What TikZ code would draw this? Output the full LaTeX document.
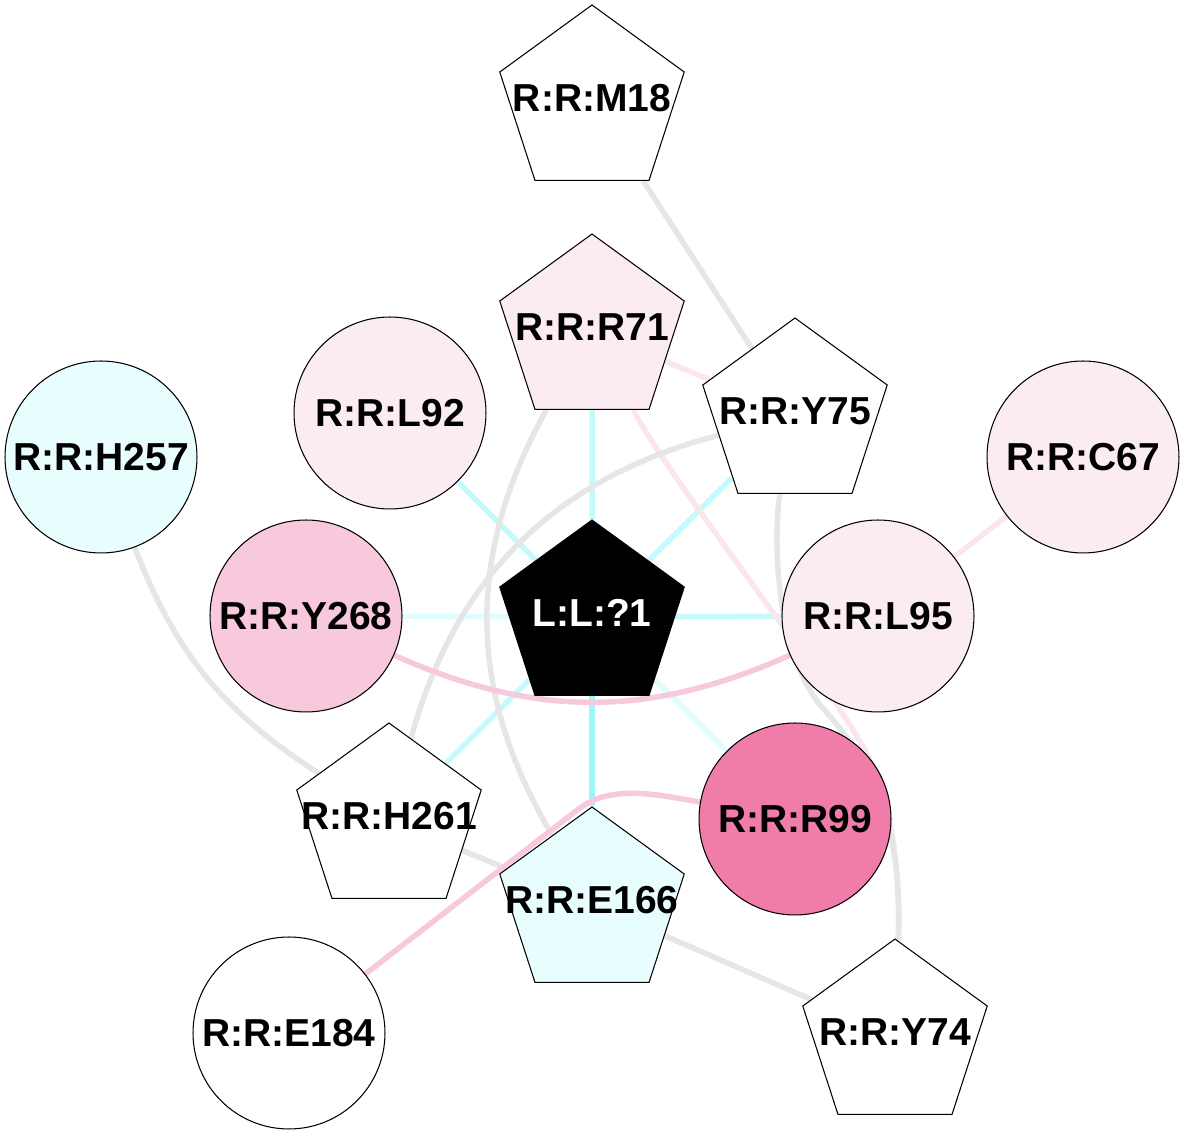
\documentclass[tikz,border=0pt]{standalone}
\usepackage{fontspec}
\setmainfont{Liberation Sans}
\usetikzlibrary{shapes.geometric,backgrounds}
\definecolor{pinkL}{HTML}{FBECF3}
\definecolor{pinkM}{HTML}{F8C8DC}
\definecolor{pinkD}{HTML}{F07CA9}
\definecolor{cyanL}{HTML}{E8FEFE}
\definecolor{egray}{HTML}{E6E6E6}
\definecolor{epink}{HTML}{F8C8DC}
\definecolor{epinkF}{HTML}{FBE6EE}
\definecolor{ecyanS}{HTML}{9CF8F8}
\definecolor{ecyanM}{HTML}{C4FAFA}
\definecolor{ecyanF}{HTML}{E0FDFD}
\newcommand{\pent}[1]{\smash{\raisebox{-.2cm}{\makebox[0pt]{#1}}}}
\begin{document}
\begin{tikzpicture}[x=.02cm,y=.02cm,
    res/.style={draw,line width=.6pt,inner sep=0pt,font=\fontsize{22.2}{26}\selectfont\bfseries},
    rc/.style={res,circle,minimum size=3.84cm},
    rp/.style={res,regular polygon,regular polygon sides=5,minimum size=3.88cm},
    lnk/.style={line width=.11cm},
    lkgray/.style={lnk,draw=egray},
    lkpink/.style={lnk,draw=epink},
    lkpinkf/.style={lnk,draw=epinkF},
    lkcyans/.style={lnk,draw=ecyanS},
    lkcyanm/.style={lnk,draw=ecyanM},
    lkcyanf/.style={lnk,draw=ecyanF}]
    \useasboundingbox (0,0) rectangle (1184,1136);
    \node[rp] (M18) at (592,1034) {\pent{R:R:M18}};
    \node[rp,fill=pinkL] (R71) at (592,805) {\pent{R:R:R71}};
    \node[rp] (Y75) at (795,721) {\pent{R:R:Y75}};
    \node[rp,fill=black,text=white] (L1) at (592,519) {\pent{L:L:?1}};
    \node[rp] (H261) at (389,316) {\pent{R:R:H261}};
    \node[rp,fill=cyanL] (E166) at (592,232) {\pent{R:R:E166}};
    \node[rp] (Y74) at (895,100) {\pent{R:R:Y74}};
    \node[rc,fill=pinkL] (L92) at (390,723) {R:R:L92};
    \node[rc,fill=cyanL] (H257) at (101,679) {R:R:H257};
    \node[rc,fill=pinkL] (C67) at (1083,679) {R:R:C67};
    \node[rc,fill=pinkM] (Y268) at (306,520) {R:R:Y268};
    \node[rc,fill=pinkL] (L95) at (878,520) {R:R:L95};
    \node[rc,fill=pinkD] (R99) at (795,317) {R:R:R99};
    \node[rc] (E184) at (289,103) {R:R:E184};
    \begin{pgfonlayer}{background}
        \draw[lkcyanf] (Y268) -- (L1) (L1) -- (R99);
        \draw[lkcyanm] (L92) -- (L1);
        \draw[lkcyanm] (R71) -- (L1) (Y75) -- (L1) (L95) -- (L1) (H261) -- (L1);
        \draw[lkcyans] (L1) -- (E166);
        \draw[lkpinkf] (R71) -- (Y75) (C67) -- (L95);
        \draw[lkpinkf] (R71) .. controls (670,656) and (800,496) .. (862,391) .. controls (895,336) and (900,256) .. (Y74);
        \draw[lkgray] (M18) -- (Y75) (H261) -- (E166);
        \draw[lkgray] (R71) to[bend right=30] (E166);
        \draw[lkgray] (Y75) to[bend right=30] (H261);
        \draw[lkgray] (H257) to[bend right=18] (H261);
        \draw[lkgray] (Y75) .. controls (775,616) and (770,496) .. (820,431) .. controls (870,376) and (903,316) .. (Y74);
        \draw[lkgray] (E166) -- (Y74);
        \draw[lkpink] (Y268) to[bend right=24] (L95);
        \draw[lkpink] (R99) .. controls (660,341) and (612,352) .. (580,328) -- (E184);
    \end{pgfonlayer}
\end{tikzpicture}
\end{document}
